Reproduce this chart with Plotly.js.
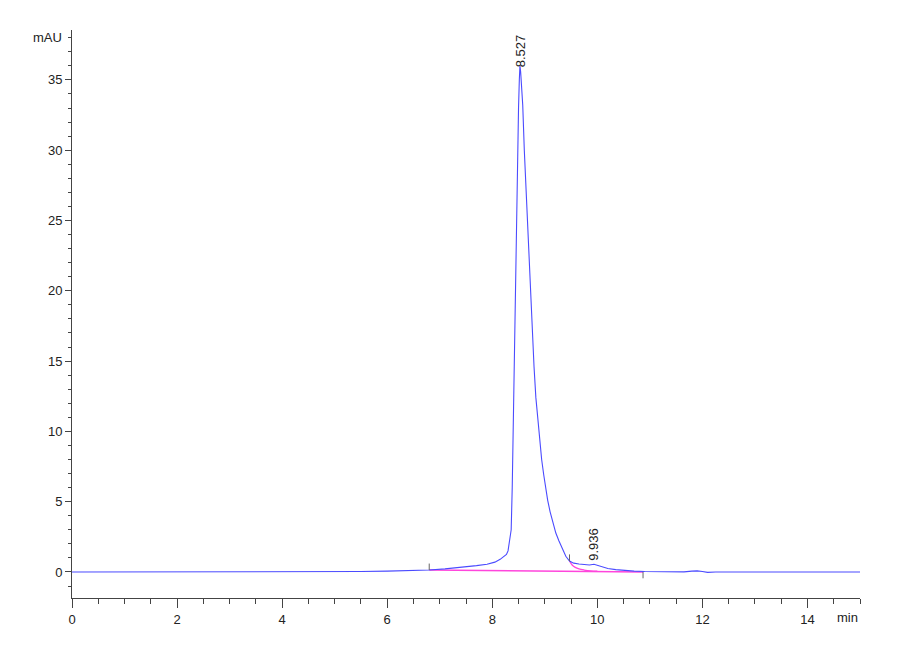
<!DOCTYPE html>
<html>
<head>
<meta charset="utf-8">
<script src="https://cdn.plot.ly/plotly-3.0.1.min.js"></script>
<style>html,body{margin:0;padding:0;background:#fff;}#chart{width:900px;height:660px;}</style>
</head>
<body>
<div id="chart"></div>
<script>
// Chromatogram signal (min, mAU)
const timeMin = [0, 0.5, 1.0, 1.5, 2.0, 3, 4, 5, 5.5, 6.0, 6.4, 6.8, 7.1, 7.4, 7.7, 7.9, 8.05, 8.15, 8.22, 8.27, 8.30, 8.33, 8.36, 8.38, 8.40, 8.42, 8.44, 8.455, 8.47, 8.485, 8.50, 8.515, 8.527, 8.54, 8.56, 8.58, 8.61, 8.65, 8.69, 8.725, 8.76, 8.795, 8.83, 8.865, 8.90, 8.94, 8.98, 9.02, 9.055, 9.10, 9.15, 9.21, 9.27, 9.34, 9.40, 9.47, 9.55, 9.65, 9.75, 9.85, 9.936, 10.0, 10.1, 10.2, 10.35, 10.5, 10.7, 10.9, 11.2, 11.5, 11.65, 11.8, 11.9, 12.0, 12.1, 12.25, 12.5, 13, 14, 15];
const signalMAU = [0, 0, 0, -0.02, 0, 0, 0, 0.02, 0.03, 0.06, 0.09, 0.14, 0.22, 0.32, 0.45, 0.55, 0.7, 0.9, 1.1, 1.25, 1.5, 2.2, 3.0, 6.0, 10.8, 17.2, 21.5, 23.8, 27.0, 30.0, 33.0, 35.0, 36.0, 35.6, 34.6, 33.2, 30.0, 26.5, 23.6, 20.4, 17.2, 14.6, 12.4, 10.8, 9.4, 8.0, 6.9, 5.9, 5.1, 4.3, 3.55, 2.77, 2.2, 1.56, 1.12, 0.78, 0.63, 0.57, 0.52, 0.5, 0.55, 0.48, 0.36, 0.25, 0.17, 0.11, 0.06, 0.03, 0.02, -0.02, 0.01, 0.06, 0.08, 0.03, -0.03, 0.0, 0, 0, 0, 0];

// Integration baseline and tail skim
const baseTime = [6.8, 10.87];
const baseMAU = [0.14, 0.0];
const skimTime = [9.47, 9.52, 9.58, 9.65, 9.75, 9.87, 10.0];
const skimMAU = [0.78, 0.5, 0.33, 0.22, 0.14, 0.08, 0.06];

// Integration event marks
const markTime = [6.8, 9.47, 10.87];
const markLow = [0.14, 0.78, -0.45];
const markHigh = [0.6, 1.25, 0.0];

// Peak labels
const peakTime = [8.527, 9.936];
const peakMAU = [36.0, 0.55];
const peakText = ["8.527", "9.936"];

const markX = [], markY = [];
markTime.forEach((t, i) => { markX.push(t, t, null); markY.push(markLow[i], markHigh[i], null); });

const font = "Liberation Sans Narrow, Liberation Sans, Arial, sans-serif";

const traces = [
  {x: baseTime, y: baseMAU, mode: 'lines', line: {color: 'rgb(255,70,220)', width: 1.3}, hoverinfo: 'skip'},
  {x: skimTime, y: skimMAU, mode: 'lines', line: {color: 'rgb(255,70,220)', width: 1.3, shape: 'spline'}, hoverinfo: 'skip'},
  {x: timeMin, y: signalMAU, mode: 'lines', line: {color: 'rgb(75,75,255)', width: 1.1}},
  {x: markX, y: markY, mode: 'lines', line: {color: '#666', width: 1}, hoverinfo: 'skip'}
];

const annotations = peakTime.map((t, i) => ({
  x: t, y: peakMAU[i], xref: 'x', yref: 'y', text: peakText[i], textangle: -90,
  showarrow: false, xanchor: 'center', yanchor: 'bottom', yshift: i === 0 ? -3 : 2,
  font: {family: font, size: 13, color: '#222'}
}));
annotations.push({x: 0, y: 38, xref: 'paper', yref: 'y', text: 'mAU', showarrow: false,
  xanchor: 'right', yanchor: 'middle', xshift: -8, font: {family: font, size: 13, color: '#222'}});
annotations.push({x: 1, y: -0.034, xref: 'paper', yref: 'paper', text: 'min', showarrow: false,
  xanchor: 'right', yanchor: 'middle', font: {family: font, size: 13, color: '#222'}});

const layout = {
  width: 900, height: 660,
  margin: {l: 72, r: 40, t: 30, b: 62},
  paper_bgcolor: '#fff', plot_bgcolor: '#fff',
  showlegend: false,
  font: {family: font, size: 13, color: '#222'},
  xaxis: {
    range: [0, 15], showgrid: false, zeroline: false,
    showline: true, linecolor: '#444', linewidth: 1,
    ticks: 'outside', ticklen: 9, tickcolor: '#444', tickwidth: 1,
    tickmode: 'linear', tick0: 0, dtick: 2,
    minor: {dtick: 0.5, tick0: 0, ticks: 'outside', ticklen: 5, tickcolor: '#444'},
    tickfont: {family: font, size: 13, color: '#222'}
  },
  yaxis: {
    range: [-1.85, 38.55], showgrid: false, zeroline: false,
    showline: true, linecolor: '#444', linewidth: 1,
    ticks: 'outside', ticklen: 6, tickcolor: '#444', tickwidth: 1,
    tickmode: 'linear', tick0: 0, dtick: 5,
    minor: {dtick: 1, tick0: 0, ticks: 'outside', ticklen: 3, tickcolor: '#444'},
    tickfont: {family: font, size: 13, color: '#222'}
  },
  annotations: annotations
};

Plotly.newPlot('chart', traces, layout, {displayModeBar: false, staticPlot: true});
</script>
</body>
</html>
